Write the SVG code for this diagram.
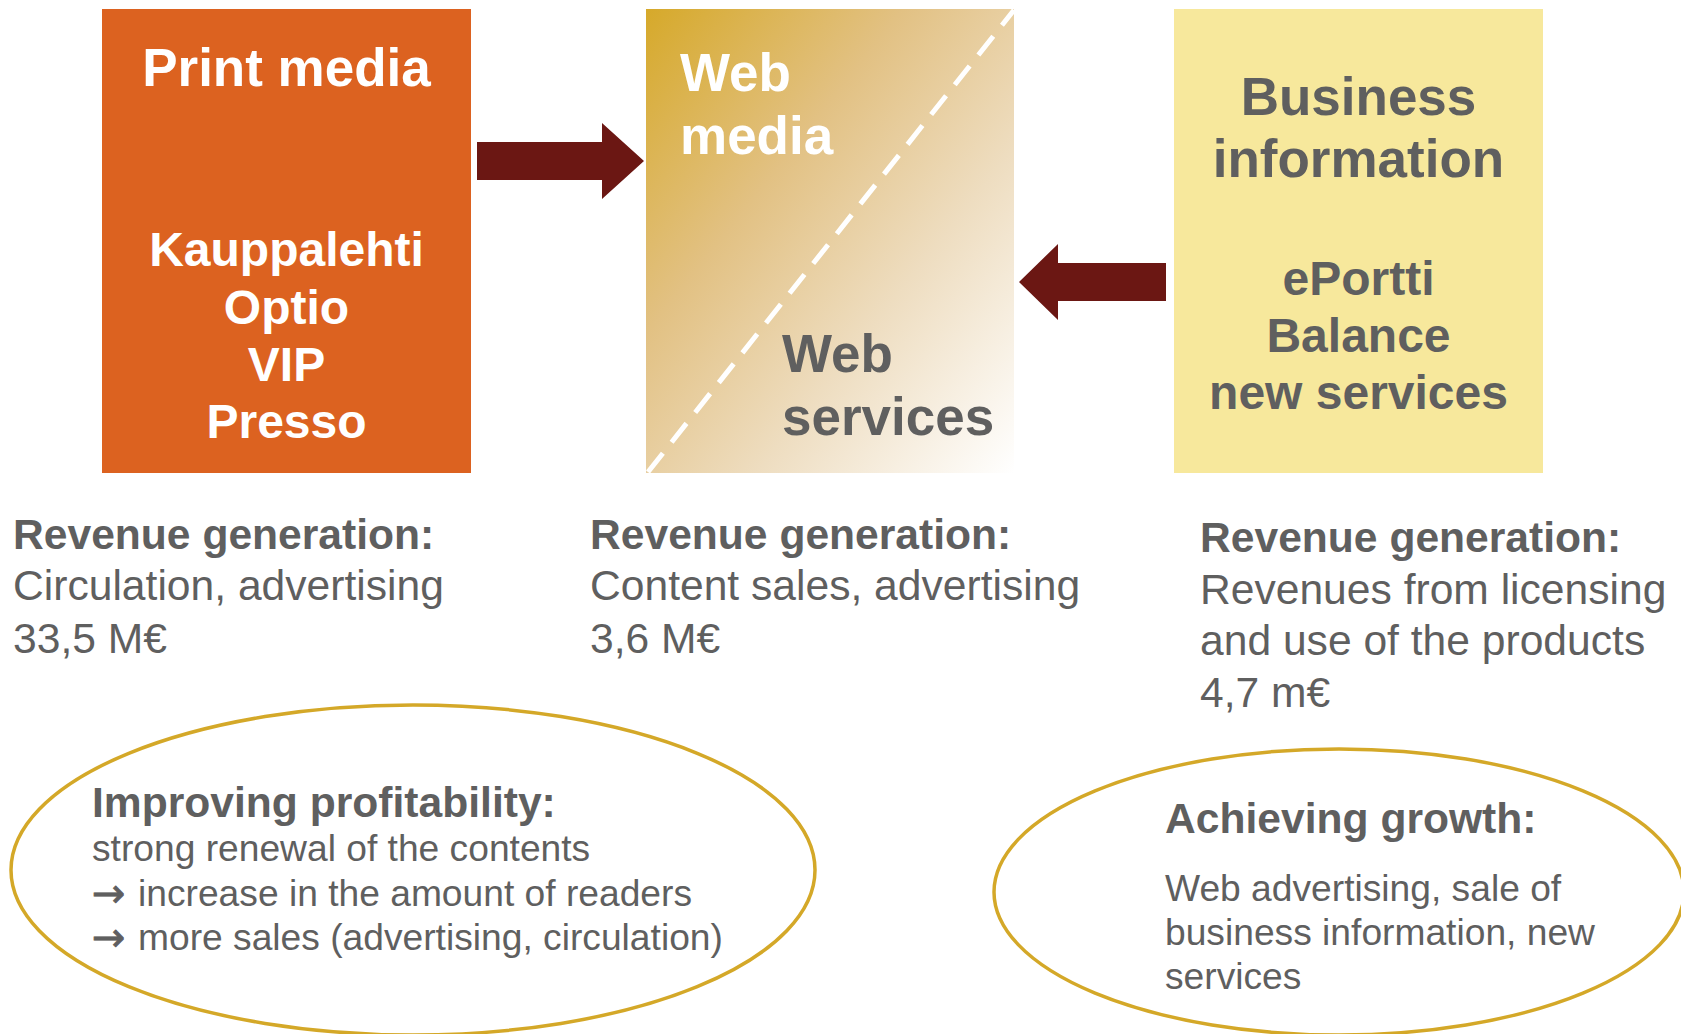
<svg xmlns="http://www.w3.org/2000/svg" width="1681" height="1034" viewBox="0 0 1681 1034">
  <defs>
    <linearGradient id="webGrad" x1="0" y1="0" x2="1" y2="1">
      <stop offset="0" stop-color="#D6A92A"/>
      <stop offset="0.35" stop-color="#E2C183"/>
      <stop offset="0.65" stop-color="#EEDDC0"/>
      <stop offset="1" stop-color="#FFFFFF"/>
    </linearGradient>
    <style>
      .t { font-family: "Liberation Sans", Arial, sans-serif; }
      .b { font-weight: bold; }
      .w { fill: #FFFFFF; }
      .g { fill: #5F5F5F; }
      .big { font-size: 53px; }
      .mid { font-size: 48px; }
      .rev { font-size: 42.6px; }
      .revb { font-size: 42.6px; }
      .small { font-size: 37.2px; }
      .ar { font-family: "DejaVu Sans", sans-serif; font-size: 40px; fill: #5F5F5F; stroke: #5F5F5F; stroke-width: 0.8; }
      .arrow { fill: #6B1713; }
      .oval { fill: none; stroke: #D4A828; stroke-width: 3.5; }
    </style>
  </defs>
  <rect width="1681" height="1034" fill="#FFFFFF"/>

  <g id="print-media">
    <rect x="102" y="9" width="369" height="464" fill="#DC6220"/>
    <text class="t b w big" x="286.5" y="86" text-anchor="middle">Print media</text>
    <text class="t b w mid" x="286.5" y="266" text-anchor="middle">Kauppalehti</text>
    <text class="t b w mid" x="286.5" y="324" text-anchor="middle">Optio</text>
    <text class="t b w mid" x="286.5" y="381" text-anchor="middle">VIP</text>
    <text class="t b w mid" x="286.5" y="438" text-anchor="middle">Presso</text>
  </g>

  <g id="web">
    <rect x="646" y="9" width="368" height="464" fill="url(#webGrad)"/>
    <line x1="648" y1="472" x2="1014" y2="10" stroke="#FFFFFF" stroke-width="5" stroke-dasharray="24 14"/>
    <text class="t b w big" x="680" y="91">Web</text>
    <text class="t b w big" x="680" y="154">media</text>
    <text class="t b g big" x="782" y="372">Web</text>
    <text class="t b g big" x="782" y="435">services</text>
  </g>

  <g id="business-information">
    <rect x="1174" y="9" width="369" height="464" fill="#F7E89C"/>
    <text class="t b g big" x="1358.5" y="115" text-anchor="middle">Business</text>
    <text class="t b g big" x="1358.5" y="177" text-anchor="middle">information</text>
    <text class="t b g mid" x="1358.5" y="295" text-anchor="middle">ePortti</text>
    <text class="t b g mid" x="1358.5" y="352" text-anchor="middle">Balance</text>
    <text class="t b g mid" x="1358.5" y="409" text-anchor="middle">new services</text>
  </g>

  <g id="connectors">
    <polygon class="arrow" points="477,142 602,142 602,123 644,161 602,199 602,180 477,180"/>
    <polygon class="arrow" points="1166,263 1058,263 1058,244 1019,282 1058,320 1058,301 1166,301"/>
  </g>

  <g id="revenue-print">
    <text class="t b g revb" x="13" y="549">Revenue generation:</text>
    <text class="t g rev" x="13" y="600">Circulation, advertising</text>
    <text class="t g rev" x="13" y="653">33,5 M€</text>
  </g>

  <g id="revenue-web">
    <text class="t b g revb" x="590" y="549">Revenue generation:</text>
    <text class="t g rev" x="590" y="600">Content sales, advertising</text>
    <text class="t g rev" x="590" y="653">3,6 M€</text>
  </g>

  <g id="revenue-business">
    <text class="t b g revb" x="1200" y="552">Revenue generation:</text>
    <text class="t g rev" x="1200" y="604">Revenues from licensing</text>
    <text class="t g rev" x="1200" y="655">and use of the products</text>
    <text class="t g rev" x="1200" y="707">4,7 m€</text>
  </g>

  <g id="improving-profitability">
    <ellipse class="oval" cx="413" cy="870" rx="402" ry="165"/>
    <text class="t b g revb" x="92" y="817">Improving profitability:</text>
    <text class="t g small" x="92" y="861">strong renewal of the contents</text>
    <text class="ar" x="92" y="907">→</text>
    <text class="t g small" x="138" y="906">increase in the amount of readers</text>
    <text class="ar" x="92" y="951">→</text>
    <text class="t g small" x="138" y="950">more sales (advertising, circulation)</text>
  </g>

  <g id="achieving-growth">
    <ellipse class="oval" cx="1339" cy="892" rx="345" ry="143"/>
    <text class="t b g revb" x="1165" y="833">Achieving growth:</text>
    <text class="t g small" x="1165" y="901">Web advertising, sale of</text>
    <text class="t g small" x="1165" y="945">business information, new</text>
    <text class="t g small" x="1165" y="989">services</text>
  </g>
</svg>
